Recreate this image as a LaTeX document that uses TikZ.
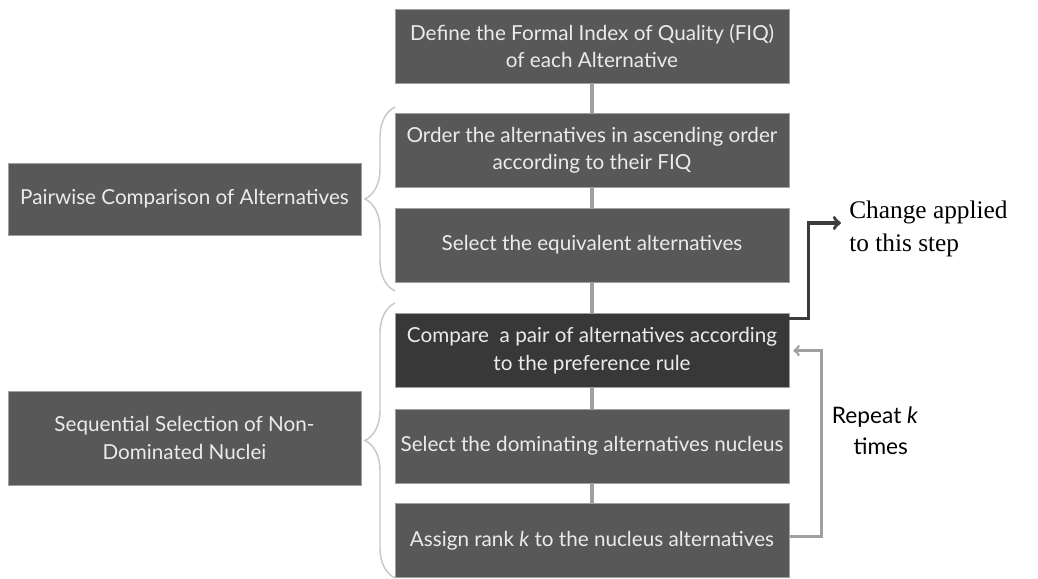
\documentclass[tikz,border=0pt]{standalone}
\usepackage{fontspec}
\setmainfont{Lato}
\newfontfamily\notefont{Liberation Serif}
\usetikzlibrary{positioning,decorations.pathreplacing}
\definecolor{boxgray}{RGB}{88,88,88}
\definecolor{boxdark}{RGB}{56,56,56}
\definecolor{linkgray}{RGB}{160,160,160}
\definecolor{bracegray}{RGB}{200,200,200}
\definecolor{arrowdark}{RGB}{60,60,60}

\begin{document}
\begin{tikzpicture}[
      x=0.75pt, y=-0.75pt,
      stepbox/.style={rectangle, fill=boxgray, draw=gray!75, text=white!92!black, align=center,
        minimum width=295.5pt, minimum height=55.5pt, inner sep=2pt, font=\fontsize{15.5}{20.5}\selectfont},
      darkbox/.style={stepbox, fill=boxdark},
      phasebox/.style={stepbox, minimum width=264.75pt, minimum height=54pt},
      link/.style={line width=3pt, draw=linkgray},
      bracket/.style={draw=bracegray, line width=1.1pt, decorate, decoration={brace, amplitude=22.5pt}},
      changearrow/.style={line width=2.6pt, draw=arrowdark, ->},
      repeatarrow/.style={line width=2pt, draw=linkgray, ->},
      note/.style={text=black, align=left, inner sep=0pt, font=\notefont\fontsize{19}{25}\selectfont},
      repeatnote/.style={text=black, align=center, inner sep=0pt, font=\fontsize{17}{23}\selectfont}
      ]
      \useasboundingbox (0,0) rectangle (1038,578);
      % main column of steps
      \node[stepbox] (define) at (592,46) {Define the Formal Index of Quality (FIQ)\\of each Alternative};
      \node[stepbox, below=22.5pt of define] (order) {Order the alternatives in ascending order\\according to their FIQ};
      \node[stepbox, below=15pt of order] (equiv) {Select the equivalent alternatives};
      \node[darkbox, below=23.25pt of equiv] (compare) {Compare \ a pair of alternatives according\\to the preference rule};
      \node[stepbox, below=15.75pt of compare] (nucleus) {Select the dominating alternatives nucleus};
      \node[stepbox, below=15pt of nucleus] (rank) {Assign rank \textit{k} to the nucleus alternatives};
      \path (define) edge [link] (order);
      \path (order) edge [link] (equiv);
      \path (equiv) edge [link] (compare);
      \path (compare) edge [link] (nucleus);
      \path (nucleus) edge [link] (rank);

      % phases on the left
      \node[phasebox] (pairwise) at (184.5,199) {Pairwise Comparison of Alternatives};
      \node[phasebox, minimum height=70.5pt] (sequential) at (184.5,438) {Sequential Selection of Non-\\Dominated Nuclei};
      \coordinate (pairtop) at (395,107);
      \coordinate (pairbot) at (395,291);
      \coordinate (seqtop) at (395,303);
      \coordinate (seqbot) at (395,578);
      \draw[bracket] (pairbot) -- (pairtop);
      \draw[bracket] (seqbot) -- (seqtop);

      % notes on the right
      \node[note, anchor=west] (change) at (849,229) {Change applied\\to this step};
      \node[repeatnote] (repeat) at (875,431) {Repeat \textit{k}\\\ \ times};
      \draw[changearrow] ([yshift=-3.75pt]compare.north east) -- ++(19,0) |- ([yshift=4.5pt,xshift=-6pt]change.west);
      \draw[repeatarrow] ([yshift=3pt]rank.east) -- ++(32,0) |- ([xshift=3pt]compare.east);
    \end{tikzpicture}
\end{document}
